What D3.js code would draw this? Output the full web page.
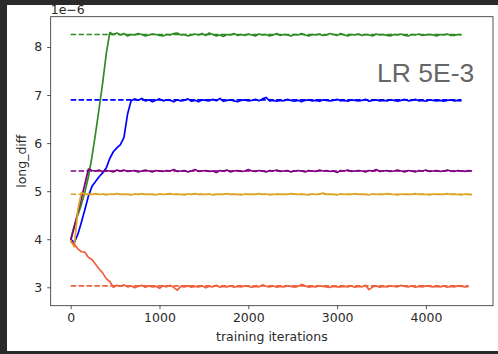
<!DOCTYPE html>
<html>
<head>
<meta charset="utf-8">
<script src="https://cdn.jsdelivr.net/npm/d3@7"></script>
<style>
  html, body { margin: 0; padding: 0; background: #2a2a2a; }
  svg { display: block; }
</style>
</head>
<body>
<svg id="chart" width="498" height="354"></svg>
<script>
// long_diff per training run, in units of 1e-6, logged every 40 iterations
const iterStep = 40;

const greenValues = [
  4.00, 4.28, 4.50, 4.72, 4.98, 5.30, 5.72, 6.20, 6.72, 7.25, 7.85, 8.30,
  8.26, 8.29, 8.25, 8.28, 8.23, 8.26, 8.25, 8.28, 8.26, 8.23,
  8.25, 8.27, 8.26, 8.24, 8.23, 8.26, 8.25, 8.28, 8.29, 8.25,
  8.26, 8.23, 8.25, 8.27, 8.25, 8.28, 8.24, 8.29, 8.26, 8.23,
  8.25, 8.22, 8.26, 8.25, 8.28, 8.24, 8.26, 8.24, 8.27, 8.25,
  8.23, 8.27, 8.25, 8.26, 8.23, 8.25, 8.28, 8.24, 8.26, 8.25,
  8.23, 8.26, 8.25, 8.28, 8.25, 8.23, 8.26, 8.25, 8.27, 8.24,
  8.25, 8.28, 8.26, 8.24, 8.28, 8.25, 8.23, 8.26, 8.25, 8.27,
  8.24, 8.26, 8.25, 8.23, 8.27, 8.25, 8.26, 8.24, 8.23, 8.26,
  8.25, 8.27, 8.24, 8.23, 8.26, 8.25, 8.27, 8.24, 8.25, 8.26,
  8.25, 8.23, 8.26, 8.25, 8.27, 8.24, 8.24, 8.26, 8.25
];

const blueValues = [
  4.00, 3.93, 4.10, 4.35, 4.62, 4.90, 5.10, 5.20, 5.30, 5.38, 5.48, 5.68,
  5.82, 5.90, 5.97, 6.12, 6.60, 6.88, 6.92,
  6.89, 6.93, 6.88, 6.90, 6.86, 6.89, 6.92, 6.88, 6.90, 6.89,
  6.86, 6.90, 6.88, 6.89, 6.92, 6.87, 6.89, 6.86, 6.90, 6.89,
  6.88, 6.91, 6.88, 6.93, 6.87, 6.89, 6.90, 6.88, 6.86, 6.89,
  6.90, 6.88, 6.89, 6.91, 6.88, 6.92, 6.95, 6.88, 6.89, 6.87,
  6.89, 6.88, 6.91, 6.89, 6.87, 6.89, 6.86, 6.89, 6.90, 6.88,
  6.89, 6.87, 6.90, 6.89, 6.88, 6.89, 6.91, 6.88, 6.89, 6.87,
  6.90, 6.89, 6.88, 6.89, 6.91, 6.87, 6.89, 6.90, 6.88, 6.89,
  6.88, 6.90, 6.89, 6.87, 6.89, 6.91, 6.88, 6.89, 6.91, 6.88,
  6.89, 6.87, 6.90, 6.89, 6.88, 6.89, 6.87, 6.89, 6.90, 6.88,
  6.89, 6.88
];

const purpleValues = [
  3.97, 4.25, 4.55, 4.85, 5.15, 5.46, 5.43,
  5.42, 5.44, 5.40, 5.43, 5.42, 5.40, 5.44, 5.42, 5.44, 5.41,
  5.42, 5.43, 5.40, 5.42, 5.44, 5.42, 5.40, 5.43, 5.42, 5.41,
  5.43, 5.42, 5.45, 5.41, 5.42, 5.43, 5.40, 5.42, 5.45, 5.41,
  5.42, 5.43, 5.41, 5.42, 5.39, 5.43, 5.42, 5.44, 5.40, 5.42,
  5.43, 5.41, 5.42, 5.45, 5.42, 5.41, 5.43, 5.42, 5.40, 5.43,
  5.42, 5.44, 5.41, 5.42, 5.43, 5.40, 5.42, 5.43, 5.42, 5.40,
  5.43, 5.42, 5.41, 5.44, 5.42, 5.43, 5.41, 5.42, 5.39, 5.43,
  5.42, 5.44, 5.41, 5.42, 5.43, 5.42, 5.40, 5.43, 5.42, 5.45,
  5.41, 5.42, 5.43, 5.41, 5.42, 5.44, 5.42, 5.40, 5.43, 5.42,
  5.40, 5.43, 5.42, 5.44, 5.41, 5.42, 5.43, 5.41, 5.42, 5.44,
  5.42, 5.41, 5.43, 5.42, 5.41, 5.43, 5.42
];

const goldValues = [
  3.98, 3.84, 4.60, 4.97, 4.93,
  4.94, 4.93, 4.95, 4.93, 4.94, 4.92, 4.94, 4.93, 4.95, 4.93,
  4.94, 4.93, 4.92, 4.94, 4.93, 4.95, 4.93, 4.94, 4.93, 4.92,
  4.94, 4.93, 4.94, 4.95, 4.93, 4.94, 4.93, 4.92, 4.94, 4.93,
  4.95, 4.93, 4.94, 4.93, 4.94, 4.92, 4.93, 4.94, 4.93, 4.95,
  4.93, 4.94, 4.93, 4.92, 4.94, 4.93, 4.94, 4.93, 4.95, 4.93,
  4.94, 4.92, 4.93, 4.94, 4.93, 4.94, 4.93, 4.95, 4.94, 4.93,
  4.94, 4.93, 4.92, 4.94, 4.93, 4.94, 4.96, 4.93, 4.94, 4.93,
  4.92, 4.94, 4.93, 4.94, 4.93, 4.95, 4.93, 4.94, 4.93, 4.92,
  4.94, 4.93, 4.94, 4.93, 4.95, 4.94, 4.93, 4.92, 4.94, 4.93,
  4.94, 4.93, 4.95, 4.93, 4.94, 4.93, 4.92, 4.94, 4.93, 4.94,
  4.93, 4.95, 4.93, 4.94, 4.93, 4.92, 4.94, 4.93, 4.93
];

const redValues = [
  3.95, 3.90, 3.80, 3.74, 3.73, 3.62, 3.58, 3.48, 3.38, 3.30, 3.18, 3.12, 3.00, 3.04,
  3.02, 3.05, 3.01, 3.03, 2.99, 3.02, 3.04, 3.00, 3.03, 3.01,
  3.02, 2.98, 3.03, 3.01, 3.04, 3.00, 2.94, 3.02, 3.01, 3.03,
  3.00, 3.02, 3.01, 3.03, 2.99, 3.02, 3.01, 3.04, 3.00, 3.02,
  3.01, 3.03, 3.00, 3.02, 3.01, 3.03, 3.02, 3.00, 3.02, 3.01,
  3.05, 3.02, 3.01, 3.03, 3.00, 3.02, 3.01, 3.03, 3.02, 3.00,
  3.02, 3.06, 3.03, 3.00, 3.02, 3.01, 3.03, 3.02, 3.01, 3.00,
  3.02, 3.01, 3.01, 3.02, 3.01, 3.03, 3.00, 3.02, 3.01, 3.04,
  2.95, 3.01, 3.03, 3.00, 3.02, 3.01, 3.03, 3.02, 3.01, 3.04,
  3.02, 3.01, 3.03, 3.00, 3.02, 3.01, 3.03, 3.02, 3.01, 3.02,
  3.01, 3.03, 3.00, 3.02, 3.01, 3.03, 3.02, 3.01, 3.02
];

// converged reference level of each run (dashed lines), 1e-6 units
const targetLevels = [8.26, 6.90, 5.42, 4.935, 3.03];
const seriesColors = ["#2f8a24", "#0000ff", "#800080", "#daa520", "#f0603c"];

const xTicks = [0, 1000, 2000, 3000, 4000];
const yTicks = [3, 4, 5, 6, 7, 8];
const xDomain = [-225, 4755];
const yDomain = [2.617, 8.63];

const runs = [greenValues, blueValues, purpleValues, goldValues, redValues].map((vals, i) => ({
  values: vals,
  target: targetLevels[i],
  color: seriesColors[i]
}));

const W = 498, H = 354;
const plot = { left: 50.7, right: 493, top: 16.7, bottom: 305.7 };
const svg = d3.select("#chart");
const font = "DejaVu Sans, sans-serif";
const textColor = "#2a2a2a";

// page background: white canvas inside a dark frame
svg.append("rect").attr("width", W).attr("height", H).attr("fill", "#2a2a2a");
svg.append("rect").attr("x", 7).attr("y", 5).attr("width", W - 7).attr("height", 346).attr("fill", "#ffffff");

const x = d3.scaleLinear().domain(xDomain).range([plot.left, plot.right]);
const y = d3.scaleLinear().domain(yDomain).range([plot.bottom, plot.top]);

svg.append("clipPath").attr("id", "plotClip")
  .append("rect")
  .attr("x", plot.left).attr("y", plot.top)
  .attr("width", plot.right - plot.left).attr("height", plot.bottom - plot.top);

const g = svg.append("g").attr("clip-path", "url(#plotClip)");

// dashed convergence levels, under the curves
runs.forEach(r => {
  const lastIter = (r.values.length - 1) * iterStep;
  g.append("path")
    .attr("d", d3.line()([[x(0), y(r.target)], [x(lastIter), y(r.target)]]))
    .attr("stroke", r.color)
    .attr("stroke-width", 1.6)
    .attr("stroke-dasharray", "5.5,2.4")
    .attr("fill", "none");
});

const line = d3.line()
  .x((d, i) => x(i * iterStep))
  .y(d => y(d));

runs.forEach(r => {
  g.append("path")
    .datum(r.values)
    .attr("d", line)
    .attr("stroke", r.color)
    .attr("stroke-width", 1.7)
    .attr("stroke-linejoin", "round")
    .attr("fill", "none");
});

// axes
const xAxis = svg.append("g")
  .attr("transform", `translate(0,${plot.bottom})`)
  .call(d3.axisBottom(x).tickValues(xTicks).tickFormat(d3.format("d")).tickSize(3.5).tickPadding(4));
const yAxis = svg.append("g")
  .attr("transform", `translate(${plot.left},0)`)
  .call(d3.axisLeft(y).tickValues(yTicks).tickFormat(d3.format("d")).tickSize(3.5).tickPadding(5));

[xAxis, yAxis].forEach(a => {
  a.select(".domain").remove();
  a.selectAll(".tick line").attr("stroke", textColor).attr("stroke-width", 0.8);
  a.selectAll(".tick text")
    .attr("font-family", font)
    .attr("font-size", 12.5)
    .attr("fill", textColor);
});

// axes frame
svg.append("rect")
  .attr("x", plot.left).attr("y", plot.top)
  .attr("width", plot.right - plot.left).attr("height", plot.bottom - plot.top)
  .attr("fill", "none")
  .attr("stroke", textColor)
  .attr("stroke-width", 0.8);

// labels
svg.append("text")
  .attr("x", (plot.left + plot.right) / 2)
  .attr("y", 341)
  .attr("text-anchor", "middle")
  .attr("font-family", font)
  .attr("font-size", 12.5)
  .attr("fill", textColor)
  .text("training iterations");

svg.append("text")
  .attr("transform", `translate(25.5,${(plot.top + plot.bottom) / 2}) rotate(-90)`)
  .attr("text-anchor", "middle")
  .attr("font-family", font)
  .attr("font-size", 12.5)
  .attr("fill", textColor)
  .text("long_diff");

svg.append("text")
  .attr("x", plot.left)
  .attr("y", 14)
  .attr("font-family", font)
  .attr("font-size", 12.5)
  .attr("fill", textColor)
  .text("1e\u22126");

svg.append("text")
  .attr("x", 377)
  .attr("y", 81.7)
  .attr("font-family", "Liberation Sans, Arial, sans-serif")
  .attr("font-size", 26.5)
  .attr("fill", "#666666")
  .text("LR 5E-3");
</script>
</body>
</html>
